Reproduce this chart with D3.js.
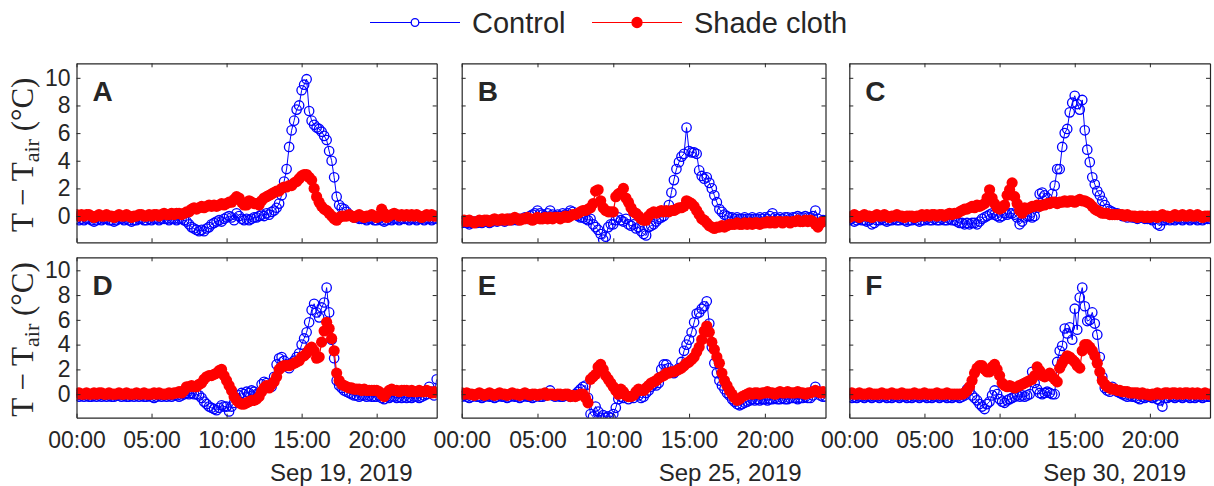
<!DOCTYPE html>
<html>
<head>
<meta charset="utf-8">
<title>T - Tair</title>
<script src="https://cdn.jsdelivr.net/npm/d3@7/dist/d3.min.js"></script>
<style>
  html, body { margin: 0; padding: 0; background: #fff; }
  text { font-family: "Liberation Sans", Arial, Helvetica, sans-serif; fill: #262626; }
</style>
</head>
<body>
<script>
// ---- data (one value every 10 min, 00:00 -> 24:00) ----
var seriesNames = ['Control', 'Shade cloth'];
var panelLetters = ['A', 'B', 'C', 'D', 'E', 'F'];
var dayStrings = ['Sep 19, 2019', 'Sep 25, 2019', 'Sep 30, 2019'];
var dayStarts = [[2019, 8, 19], [2019, 8, 25], [2019, 8, 30]];
var hourTicks = [0, 5, 10, 15, 20];
var yTicks = [0, 2, 4, 6, 8, 10];

var controlA = [
  -0.2,-0.3,-0.2,-0.3,-0.2,-0.2, -0.3,-0.4,-0.3,-0.2,-0.3,-0.2,
  -0.2,-0.3,-0.3,-0.4,-0.3,-0.2, -0.2,-0.3,-0.2,-0.3,-0.4,-0.3,
  -0.3,-0.2,-0.2,-0.3,-0.3,-0.2, -0.3,-0.2,-0.2,-0.3,-0.2,-0.2,
  -0.2,-0.3,-0.2,-0.2,-0.3,-0.2, -0.2,-0.3,-0.4,-0.6,-0.8,-0.9,
  -1.0,-1.1,-1.0,-1.1,-0.9,-0.8, -0.6,-0.5,-0.4,-0.3,-0.4,-0.2,
  -0.1,0.0,-0.1,-0.3,0.2,0.0, -0.2,-0.3,-0.2,-0.3,-0.2,-0.1,
  -0.1,0.0,0.1,0.0,0.2,0.1, 0.3,0.4,0.6,0.9,1.5,2.5,
  3.4,5.0,6.2,6.9,7.7,8.0, 9.1,9.5,9.9,7.6,6.9,6.6,
  6.4,6.3,6.1,5.8,5.5,4.7, 4.0,2.8,1.4,0.8,0.6,0.5,
  0.3,0.1,0.0,-0.1,-0.1,-0.2, -0.2,-0.2,-0.3,-0.2,-0.2,-0.3,
  -0.3,-0.2,-0.3,-0.4,-0.3,-0.2, -0.3,-0.2,-0.2,-0.3,-0.2,-0.2,
  -0.2,-0.3,-0.2,-0.2,-0.3,-0.2, -0.2,-0.3,-0.2,-0.2,-0.3,-0.2,
  -0.2];
var shadeA = [
  0.1,0.0,0.1,0.0,0.1,0.1, 0.0,-0.1,0.0,0.1,0.0,0.0,
  0.1,0.0,0.0,-0.1,0.0,0.1, 0.0,0.0,0.1,0.0,-0.1,0.0,
  0.0,0.1,0.1,0.0,0.0,0.1, 0.0,0.1,0.1,0.0,0.1,0.2,
  0.1,0.1,0.2,0.1,0.2,0.2, 0.1,0.2,0.3,0.3,0.5,0.6,
  0.5,0.6,0.7,0.6,0.7,0.8, 0.7,0.8,0.7,0.8,0.9,0.8,
  0.9,1.0,1.0,1.2,1.4,1.3, 1.0,0.8,0.8,1.1,1.0,0.9,
  0.9,0.8,1.1,1.3,1.4,1.5, 1.6,1.7,1.8,1.8,2.0,2.1,
  2.1,2.2,2.2,2.4,2.5,2.7, 2.9,3.0,3.0,2.8,2.6,2.0,
  1.4,1.0,0.7,0.5,0.4,0.2, 0.0,-0.2,-0.3,-0.1,0.0,0.0,
  0.0,0.1,0.0,-0.1,0.0,0.1, 0.0,-0.1,0.0,0.0,0.1,0.0,
  -0.1,0.0,0.5,0.2,-0.1,0.0, 0.1,0.2,0.1,0.0,0.1,0.0,
  0.1,0.0,0.1,0.0,0.1,0.0, -0.1,0.0,0.1,0.0,0.1,0.0,
  0.0];
var controlB = [
  -0.5,-0.4,-0.5,-0.6,-0.5,-0.4, -0.5,-0.4,-0.5,-0.4,-0.4,-0.5,
  -0.4,-0.3,-0.4,-0.3,-0.3,-0.4, -0.3,-0.2,-0.3,-0.2,-0.3,-0.2,
  -0.2,-0.1,-0.2,0.0,0.1,0.2, 0.4,0.2,0.1,0.0,0.2,0.4,
  0.1,0.0,0.1,0.0,0.2,0.1, 0.2,0.4,0.3,0.1,0.0,-0.1,
  -0.1,-0.2,-0.3,-0.2,-0.6,-0.8, -1.0,-1.3,-1.7,-1.5,-0.8,-0.6,
  -0.6,-0.3,-0.1,-0.3,-0.4,-0.2, -0.6,-0.7,-0.6,-0.9,-0.8,-1.1,
  -1.3,-1.4,-0.8,-0.7,-0.6,-0.4, -0.2,-0.1,0.0,0.3,0.8,1.7,
  2.6,3.4,3.9,4.3,4.5,6.4, 4.7,4.6,4.6,4.5,3.3,2.9,
  2.7,2.8,2.4,2.0,1.5,1.0, 0.5,0.3,0.1,0.0,-0.1,-0.1,
  -0.2,-0.1,-0.2,-0.2,-0.1,-0.2, -0.2,-0.1,-0.2,-0.2,-0.1,-0.2,
  -0.1,-0.2,0.0,0.2,-0.1,-0.2, -0.1,-0.2,-0.1,-0.1,-0.2,-0.1,
  -0.1,0.0,-0.1,-0.1,0.0,-0.1, -0.1,0.0,0.4,-0.2,-0.5,-0.3,
  -0.3];
var shadeB = [
  -0.4,-0.3,-0.4,-0.3,-0.4,-0.5, -0.4,-0.3,-0.4,-0.3,-0.3,-0.4,
  -0.3,-0.2,-0.3,-0.3,-0.2,-0.3, -0.2,-0.3,-0.2,-0.1,-0.2,-0.3,
  -0.2,-0.2,-0.1,-0.2,-0.3,-0.2, -0.1,-0.2,-0.2,-0.1,-0.2,-0.1,
  -0.2,-0.1,-0.1,-0.2,-0.1,0.0, -0.1,0.0,0.1,0.1,0.2,0.3,
  0.4,0.4,0.5,0.6,0.9,1.8, 1.9,1.1,0.6,0.4,0.3,0.3,
  0.3,1.4,1.6,1.7,2.0,1.3, 1.0,0.6,0.3,0.2,0.0,-0.2,
  -0.3,-0.3,0.0,0.2,0.3,0.2, 0.3,0.4,0.3,0.4,0.3,0.4,
  0.4,0.5,0.6,0.6,0.7,1.1, 1.0,0.9,0.7,0.4,0.1,-0.2,
  -0.3,-0.5,-0.7,-0.8,-0.9,-0.8, -0.8,-0.7,-0.8,-0.7,-0.6,-0.6,
  -0.6,-0.5,-0.6,-0.6,-0.5,-0.6, -0.5,-0.6,-0.5,-0.5,-0.6,-0.5,
  -0.5,-0.4,-0.5,-0.4,-0.5,-0.4, -0.4,-0.5,-0.4,-0.4,-0.5,-0.4,
  -0.4,-0.3,-0.4,-0.4,-0.3,-0.4, -0.3,-0.4,-0.6,-0.8,-0.5,-0.4,
  -0.4];
var controlC = [
  -0.3,-0.2,-0.4,-0.3,-0.2,-0.3, -0.3,-0.4,-0.3,-0.6,-0.5,-0.3,
  -0.3,-0.2,-0.3,-0.4,-0.3,-0.3, -0.2,-0.3,-0.3,-0.2,-0.3,-0.4,
  -0.3,-0.3,-0.2,-0.3,-0.4,-0.3, -0.3,-0.2,-0.3,-0.3,-0.2,-0.3,
  -0.3,-0.2,-0.3,-0.3,-0.2,-0.3, -0.3,-0.4,-0.5,-0.5,-0.6,-0.5,
  -0.6,-0.5,-0.5,-0.6,-0.4,-0.2, -0.1,0.0,0.1,0.2,0.1,0.0,
  -0.1,0.0,0.2,0.1,0.2,0.2, 0.1,-0.1,-0.6,-0.4,-0.1,0.0,
  0.0,-0.1,0.0,0.6,1.6,1.7, 1.5,1.3,1.0,1.6,2.2,3.4,
  3.4,5.0,6.0,6.3,7.5,8.2, 8.7,8.1,7.7,8.4,6.2,4.8,
  3.9,2.8,2.3,1.8,1.5,1.1, 0.8,0.5,0.4,0.3,0.2,0.2,
  0.1,0.0,0.0,-0.1,0.0,-0.1, -0.1,-0.2,-0.1,-0.1,-0.2,-0.2,
  -0.2,-0.3,-0.2,-0.6,-0.7,-0.3, -0.3,-0.2,-0.3,-0.2,-0.3,-0.2,
  -0.2,-0.3,-0.2,-0.2,-0.3,-0.2, -0.2,-0.3,-0.2,-0.3,-0.2,-0.2,
  -0.2];
var shadeC = [
  -0.1,0.0,0.1,0.0,-0.1,0.0, 0.1,0.0,0.0,-0.1,0.0,0.1,
  0.0,0.0,0.1,0.0,-0.1,0.0, 0.0,0.1,0.0,0.0,-0.1,0.0,
  0.0,0.0,-0.1,0.0,0.0,0.1, 0.0,0.1,0.0,0.1,0.1,0.0,
  0.1,0.1,0.0,0.1,0.2,0.1, 0.2,0.2,0.3,0.4,0.5,0.5,
  0.6,0.7,0.6,0.8,0.7,0.8, 0.9,1.3,1.9,1.3,0.9,0.6,
  0.5,0.6,0.8,1.5,1.9,2.4, 1.4,0.9,0.4,0.2,0.6,0.5,
  0.6,0.7,0.7,0.8,0.7,0.8, 0.8,0.9,0.9,1.0,1.0,0.9,
  1.0,1.0,1.1,1.0,1.1,1.1, 1.0,1.1,1.2,1.1,1.1,1.0,
  0.9,0.7,0.5,0.4,0.3,0.2, 0.2,0.2,0.1,0.1,0.1,0.1,
  0.1,0.1,0.0,0.1,0.0,0.0, 0.0,-0.1,0.0,0.0,-0.1,0.0,
  -0.1,0.0,0.0,-0.1,0.0,0.1, 0.0,0.0,-0.1,0.0,0.1,0.0,
  0.0,0.1,0.0,0.0,0.1,0.0, 0.0,0.1,0.0,-0.1,0.0,0.0,
  0.0];
var controlD = [
  -0.1,-0.2,-0.1,-0.2,-0.1,-0.2, -0.2,-0.1,-0.2,-0.1,-0.2,-0.1,
  -0.2,-0.1,-0.2,-0.2,-0.1,-0.1, -0.2,-0.1,-0.2,-0.2,-0.1,-0.2,
  -0.1,-0.2,-0.1,-0.2,-0.2,-0.1, -0.2,-0.3,-0.2,-0.1,-0.2,-0.1,
  -0.2,-0.1,-0.2,-0.1,-0.1,-0.2, -0.1,0.0,0.1,0.0,0.1,0.0,
  0.0,-0.1,-0.3,-0.6,-0.8,-1.0, -1.1,-1.2,-1.3,-1.1,-0.9,-1.0,
  -1.0,-1.4,-1.0,-0.7,-0.3,-0.1, 0.1,0.0,0.2,0.1,0.3,0.2,
  0.0,0.1,0.8,1.0,0.9,0.6, 0.6,1.4,2.4,2.9,3.0,2.7,
  2.4,2.1,2.5,2.7,3.0,3.3, 4.0,4.5,5.0,5.8,6.8,7.3,
  6.6,6.2,7.0,7.4,8.6,6.6, 4.4,2.9,1.1,0.7,0.5,0.3,
  0.2,0.1,0.0,-0.1,-0.1,-0.2, -0.1,-0.1,-0.2,-0.1,-0.2,-0.2,
  -0.2,-0.1,-0.3,-0.4,-0.2,-0.3, -0.2,-0.2,-0.3,-0.2,-0.3,-0.2,
  -0.3,-0.2,-0.3,-0.2,-0.2,-0.3, -0.2,-0.1,0.0,0.6,0.2,-0.1,
  1.2];
var shadeD = [
  0.0,0.1,0.0,0.0,0.1,0.0, 0.0,0.1,0.0,0.1,0.1,0.0,
  0.0,0.1,0.0,0.0,0.0,0.1, 0.0,0.0,0.1,0.0,0.0,0.0,
  0.1,0.0,0.0,0.1,0.0,0.0, 0.0,0.1,0.0,0.1,0.0,0.0,
  0.0,0.1,0.0,0.1,0.1,0.2, 0.1,0.3,0.6,0.6,0.7,0.6,
  0.6,0.8,0.9,1.2,1.4,1.5, 1.5,1.6,1.7,1.9,2.0,1.5,
  1.1,0.7,0.3,-0.2,-0.5,-0.7, -0.8,-0.8,-0.7,-0.6,-0.5,-0.5,
  -0.4,-0.2,0.2,0.5,0.7,0.5, 0.8,1.0,1.4,2.0,2.2,2.3,
  2.3,2.3,2.4,2.5,2.6,2.7, 3.0,3.1,3.3,3.6,3.8,3.5,
  2.9,3.0,4.2,5.1,5.8,5.3, 4.5,3.5,1.7,1.1,0.8,0.7,
  0.6,0.5,0.5,0.4,0.4,0.4, 0.3,0.4,0.3,0.3,0.3,0.3,
  0.3,0.2,0.0,-0.2,0.1,0.3, 0.4,0.3,0.3,0.2,0.3,0.3,
  0.3,0.2,0.3,0.2,0.2,0.3, 0.2,0.2,0.3,0.2,0.1,0.2,
  0.1];
var controlE = [
  -0.2,-0.1,-0.2,-0.3,-0.2,-0.1, -0.2,-0.2,-0.3,-0.2,-0.1,-0.2,
  -0.2,-0.3,-0.2,-0.1,-0.2,-0.2, -0.3,-0.2,-0.1,-0.2,-0.2,-0.3,
  -0.2,-0.1,-0.2,-0.2,-0.3,-0.2, -0.1,-0.2,-0.2,-0.1,0.0,0.3,
  -0.1,-0.2,-0.1,-0.2,-0.2,-0.1, -0.1,-0.2,-0.1,0.0,0.2,0.4,
  0.6,0.7,-0.3,-1.6,-1.8,-1.0, -1.4,-1.9,-1.7,-1.9,-1.8,-1.9,
  -1.6,-1.1,-0.4,-0.2,-0.3,-0.1, -0.4,-0.2,-0.3,0.0,-0.1,-0.3,
  -0.2,0.1,0.3,0.6,0.8,0.7, 0.9,2.0,2.4,2.4,2.1,1.8,
  1.7,1.9,2.1,2.6,3.5,4.0, 4.4,5.0,5.8,6.5,6.6,6.9,
  7.1,7.5,5.7,3.8,2.5,1.7, 1.1,0.7,0.4,0.1,-0.1,-0.4,
  -0.6,-0.8,-0.9,-0.8,-0.7,-0.6, -0.5,-0.4,-0.5,-0.4,-0.5,-0.4,
  -0.4,-0.5,-0.4,-0.4,-0.3,-0.4, -0.4,-0.3,-0.4,-0.4,-0.3,-0.3,
  -0.3,-0.4,-0.3,-0.3,-0.2,-0.3, -0.3,-0.1,0.6,0.2,-0.1,-0.2,
  -0.2];
var shadeE = [
  0.1,0.0,0.1,0.0,0.0,-0.1, 0.0,0.1,0.0,-0.1,0.0,0.1,
  0.0,-0.1,0.0,0.1,0.0,0.0, -0.1,0.0,0.1,0.0,0.0,-0.1,
  0.0,0.1,0.0,-0.1,0.0,0.0, -0.1,0.0,0.0,0.1,-0.1,0.0,
  0.0,-0.1,0.0,0.0,-0.1,0.0, 0.0,-0.2,-0.1,-0.2,-0.1,0.0,
  0.0,-0.3,-0.7,1.2,1.4,1.6, 2.2,2.4,2.0,1.5,1.2,0.9,
  0.6,0.3,0.0,0.4,0.2,-0.1, -0.2,-0.2,-0.1,0.2,0.4,0.3,
  0.3,0.5,0.7,0.9,1.0,1.1, 1.3,1.4,1.5,1.7,1.7,1.8,
  1.8,1.9,2.0,2.1,2.3,2.5, 2.6,2.8,3.0,3.4,3.8,4.4,
  5.1,5.5,5.0,4.2,3.6,3.0, 2.5,1.7,1.1,0.7,0.3,0.0,
  -0.3,-0.5,-0.4,-0.2,-0.1,0.0, 0.1,0.0,0.1,0.1,0.0,0.1,
  0.1,0.2,0.1,0.1,0.0,0.1, 0.2,0.1,0.1,0.2,0.1,0.1,
  0.1,0.2,0.1,0.1,0.0,0.1, 0.1,0.2,0.3,0.2,0.1,0.2,
  0.1];
var controlF = [
  -0.2,-0.3,-0.2,-0.3,-0.2,-0.2, -0.3,-0.2,-0.2,-0.3,-0.2,-0.2,
  -0.3,-0.2,-0.2,-0.3,-0.2,-0.3, -0.2,-0.2,-0.3,-0.2,-0.2,-0.3,
  -0.2,-0.3,-0.2,-0.2,-0.3,-0.2, -0.2,-0.3,-0.2,-0.3,-0.2,-0.2,
  -0.3,-0.2,-0.2,-0.3,-0.2,-0.3, -0.2,-0.2,-0.3,-0.2,-0.1,0.4,
  0.3,-0.1,-0.3,-0.5,-0.8,-1.0, -1.2,-0.8,-0.6,-0.1,0.3,0.0,
  -0.4,-0.6,-0.7,-0.5,-0.4,-0.3, -0.2,-0.1,-0.2,-0.1,-0.2,-0.1,
  0.0,1.8,0.9,0.4,0.1,0.0, 0.1,0.2,0.1,0.0,0.0,2.6,
  3.5,3.9,5.3,4.9,5.4,4.4, 6.9,5.2,7.8,8.6,7.1,5.9,
  6.0,6.6,5.7,4.8,3.0,1.4, 0.5,0.3,0.2,0.6,0.4,0.2,
  0.1,0.0,-0.1,-0.2,-0.1,-0.2, -0.2,-0.3,-0.4,-0.2,-0.3,-0.2,
  -0.2,-0.3,-0.2,-0.4,-0.5,-1.0, -0.3,-0.3,-0.2,-0.2,-0.3,-0.2,
  -0.2,-0.3,-0.2,-0.2,-0.3,-0.2, -0.3,-0.2,-0.2,-0.3,-0.2,-0.2,
  -0.2];
var shadeF = [
  0.0,0.1,0.0,0.0,0.1,0.0, 0.0,0.0,0.1,0.0,0.0,0.0,
  0.0,0.1,0.0,0.0,0.0,0.1, 0.0,0.0,0.0,0.1,0.0,0.0,
  0.0,0.0,0.1,0.0,0.0,0.0, 0.1,0.0,0.0,0.0,0.0,0.1,
  0.0,0.0,0.0,0.1,0.0,0.0, 0.0,0.0,0.0,0.0,0.1,0.3,
  0.6,1.1,1.7,2.1,2.3,2.3, 2.0,1.8,1.8,2.2,2.4,2.0,
  1.5,0.9,0.7,0.6,0.7,0.6, 0.5,0.6,0.7,0.8,0.9,1.0,
  1.1,1.2,1.5,2.2,1.9,1.5, 1.4,1.5,1.7,1.4,1.2,1.0,
  2.1,2.5,2.8,3.1,3.0,2.8, 2.6,2.3,2.1,3.5,4.0,4.0,
  3.8,3.5,3.1,2.5,1.8,1.1, 0.8,0.6,0.5,0.4,0.4,0.3,
  0.3,0.2,0.2,0.2,0.1,0.1, 0.1,0.1,0.0,0.1,0.0,0.0,
  -0.1,0.0,0.0,0.1,0.0,0.0, 0.1,0.1,0.0,0.1,0.1,0.0,
  0.1,0.0,0.1,0.1,0.0,0.1, 0.0,0.1,0.0,0.0,0.1,0.0,
  0.0];

var controlSeries = [controlA, controlB, controlC, controlD, controlE, controlF];
var shadeSeries = [shadeA, shadeB, shadeC, shadeD, shadeE, shadeF];

// ---- layout ----
var width = 1214, height = 486;
var colX = [[76.5, 436.7], [461.7, 825.5], [849.3, 1210]];
var rowY = [[63.3, 242.3], [257.3, 417.7]];
var yDomain = [-1.9, 11.05];
var blue = '#0000ff', red = '#ff0000', ink = '#262626';

var svg = d3.select('body').append('svg')
    .attr('width', width).attr('height', height)
    .style('display', 'block');

panelLetters.forEach(function(letter, i) {
    var col = i % 3, row = Math.floor(i / 3);
    var ds = dayStarts[col];
    var day = new Date(ds[0], ds[1], ds[2]);
    var x = d3.scaleTime().domain([day, d3.timeDay.offset(day, 1)]).range(colX[col]);
    var y = d3.scaleLinear().domain(yDomain).range([rowY[row][1], rowY[row][0]]);
    var x0 = colX[col][0], x1 = colX[col][1], y0 = rowY[row][0], y1 = rowY[row][1];

    var clipId = 'clip' + i;
    svg.append('clipPath').attr('id', clipId).append('rect')
        .attr('x', x0).attr('y', y0).attr('width', x1 - x0).attr('height', y1 - y0);

    var plot = svg.append('g').attr('clip-path', 'url(#' + clipId + ')');

    function toPoints(vals) {
        return vals.map(function(v, k) { return { t: d3.timeMinute.offset(day, k * 10), v: v }; });
    }
    var line = d3.line().x(function(d) { return x(d.t); }).y(function(d) { return y(d.v); });

    var cPts = toPoints(controlSeries[i]);
    var sPts = toPoints(shadeSeries[i]);

    // control: blue line + open circles
    plot.append('path').datum(cPts).attr('d', line)
        .attr('fill', 'none').attr('stroke', blue).attr('stroke-width', 1);
    plot.selectAll('.c').data(cPts).enter().append('circle')
        .attr('cx', function(d) { return x(d.t); })
        .attr('cy', function(d) { return y(d.v); })
        .attr('r', 4.7).attr('fill', 'none').attr('stroke', blue).attr('stroke-width', 1.3);

    // shade cloth: red line + filled circles
    plot.append('path').datum(sPts).attr('d', line)
        .attr('fill', 'none').attr('stroke', red).attr('stroke-width', 1.2);
    plot.selectAll('.s').data(sPts).enter().append('circle')
        .attr('cx', function(d) { return x(d.t); })
        .attr('cy', function(d) { return y(d.v); })
        .attr('r', 5.6).attr('fill', red);

    // axes (ticks inward on all four sides)
    var tickDates = hourTicks.map(function(h) { return d3.timeHour.offset(day, h); });
    var fmt = d3.timeFormat('%H:%M');
    var showX = row === 1, showY = col === 0;

    var gB = svg.append('g').attr('transform', 'translate(0,' + y1 + ')')
        .call(d3.axisBottom(x).tickValues(tickDates).tickSizeInner(-4).tickSizeOuter(0)
            .tickPadding(14).tickFormat(showX ? fmt : ''));
    var gT = svg.append('g').attr('transform', 'translate(0,' + y0 + ')')
        .call(d3.axisTop(x).tickValues(tickDates).tickSizeInner(-4).tickSizeOuter(0).tickFormat(''));
    var gL = svg.append('g').attr('transform', 'translate(' + x0 + ',0)')
        .call(d3.axisLeft(y).tickValues(yTicks).tickSizeInner(-4).tickSizeOuter(0)
            .tickPadding(6).tickFormat(showY ? d3.format('d') : ''));
    var gR = svg.append('g').attr('transform', 'translate(' + x1 + ',0)')
        .call(d3.axisRight(y).tickValues(yTicks).tickSizeInner(-4).tickSizeOuter(0).tickFormat(''));

    [gB, gT, gL, gR].forEach(function(g) {
        g.selectAll('path.domain').attr('stroke', ink).attr('stroke-width', 1.2);
        g.selectAll('.tick line').attr('stroke', ink).attr('stroke-width', 1);
        g.selectAll('.tick text').attr('fill', ink)
            .style('font-family', '"Liberation Sans", Arial, Helvetica, sans-serif')
            .style('font-size', '23px');
    });

    // panel letter
    svg.append('text').attr('x', x0 + 16).attr('y', y0 + 38)
        .style('font-size', '28px').style('font-weight', 'bold').attr('fill', '#000')
        .text(letter);

    // date label under bottom row
    if (showX) {
        svg.append('text').attr('x', x1 - 24).attr('y', 481)
            .attr('text-anchor', 'end').style('font-size', '24px').attr('fill', ink)
            .text(dayStrings[col]);
    }
});

// y-axis labels (one per row)
rowY.forEach(function(r) {
    var cy = (r[0] + r[1]) / 2 + 2;
    var t = svg.append('text')
        .attr('transform', 'translate(33,' + cy + ') rotate(-90)')
        .attr('text-anchor', 'middle')
        .style('font-family', '"Liberation Serif", "Times New Roman", serif')
        .style('font-size', '31px').attr('fill', ink);
    t.append('tspan').text('T \u2212 T');
    t.append('tspan').attr('dy', 6).style('font-size', '22px').text('air');
    t.append('tspan').attr('dy', -6).text(' (\u00b0C)');
});

// legend
var legend = svg.append('g');
var legendItems = [
    { name: seriesNames[0], color: blue, filled: false, x: 370 },
    { name: seriesNames[1], color: red, filled: true, x: 592 }
];
legendItems.forEach(function(it) {
    legend.append('line').attr('x1', it.x).attr('x2', it.x + 90)
        .attr('y1', 22.5).attr('y2', 22.5).attr('stroke', it.color).attr('stroke-width', 1.2);
    legend.append('circle').attr('cx', it.x + 45).attr('cy', 22.5)
        .attr('r', it.filled ? 5 : 3.8)
        .attr('fill', it.filled ? it.color : '#fff')
        .attr('stroke', it.color).attr('stroke-width', 1.3);
    legend.append('text').attr('x', it.x + 102).attr('y', 33)
        .style('font-size', '29px').attr('fill', '#000').text(it.name);
});
</script>
</body>
</html>
